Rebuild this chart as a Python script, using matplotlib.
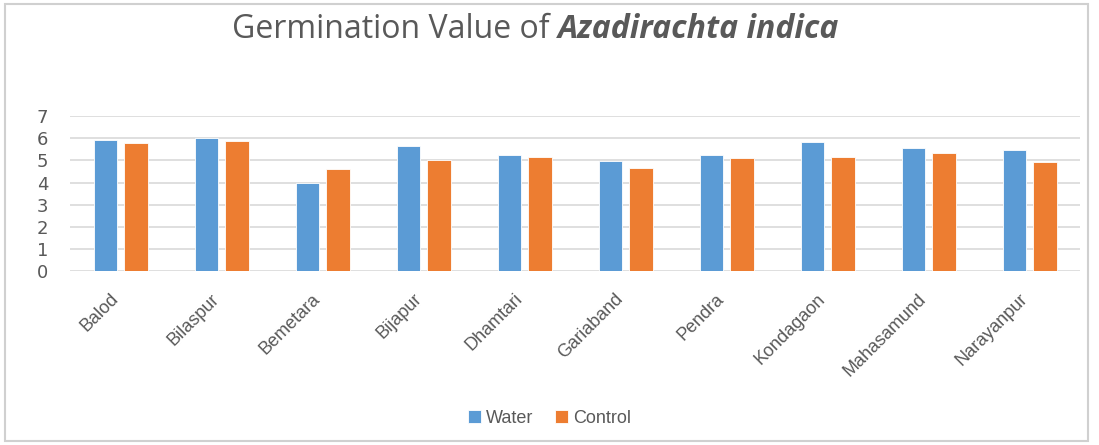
import matplotlib.pyplot as plt
import matplotlib.transforms as mtransforms
import numpy as np
from matplotlib.patches import Rectangle

districts = ['Balod', 'Bilaspur', 'Bemetara', 'Bijapur', 'Dhamtari', 'Gariaband',
             'Pendra', 'Kondagaon', 'Mahasamund', 'Narayanpur']
water = [5.93, 6.02, 4.0, 5.66, 5.26, 4.95, 5.26, 5.84, 5.57, 5.48]
control = [5.77, 5.89, 4.59, 5.03, 5.17, 4.67, 5.12, 5.17, 5.35, 4.94]

grey = '#595959'
lab_font = ['Liberation Sans', 'DejaVu Sans']

fig = plt.figure(figsize=(10.99, 4.45), dpi=100)
ax = fig.add_axes([0.064, 0.391, 0.919, 0.348])

x = np.arange(len(districts))
ax.bar(x - 0.15, water, 0.23, color='#5B9BD5', edgecolor='white', linewidth=0.6, label='Water', zorder=3)
ax.bar(x + 0.15, control, 0.23, color='#ED7D31', edgecolor='white', linewidth=0.6, label='Control', zorder=3)

ax.set_xlim(-0.5, len(districts) - 0.5)
ax.set_ylim(0, 7)
ax.set_yticks(range(8))
ax.grid(axis='y', color='#D9D9D9', linewidth=1.2, zorder=0)
for s in ax.spines.values():
    s.set_visible(False)
ax.tick_params(length=0)
ax.tick_params(axis='y', pad=16, labelsize=13, labelcolor=grey)
ax.set_xticks(x)
ax.set_xticklabels(districts, rotation=45, ha='right', rotation_mode='anchor',
                   fontsize=13, color=grey, family=lab_font)
ax.tick_params(axis='x', pad=14)
shift = mtransforms.ScaledTranslation(-11 / 100, 0, fig.dpi_scale_trans)
for lbl in ax.get_xticklabels():
    lbl.set_transform(lbl.get_transform() + shift)

# title in two parts
t1 = fig.text(0.5, 0.915, 'Germination Value of ', fontsize=23, color=grey,
              family='Open Sans', ha='left', va='baseline')
t2 = fig.text(0.5, 0.915, 'Azadirachta indica', fontsize=23, color=grey,
              family='Open Sans', fontweight='bold', style='italic', ha='left', va='baseline')
fig.canvas.draw()
r = fig.canvas.get_renderer()
w1 = t1.get_window_extent(r).width / fig.bbox.width
w2 = t2.get_window_extent(r).width / fig.bbox.width
start = 0.487 - (w1 + w2) / 2
t1.set_x(start)
t2.set_x(start + w1)

leg = fig.legend(loc='center', bbox_to_anchor=(0.5, 0.06), ncol=2, frameon=False,
                 prop={'family': lab_font, 'size': 13}, handlelength=0.7, handleheight=0.7,
                 handletextpad=0.3, columnspacing=1.2)
for txt in leg.get_texts():
    txt.set_color(grey)

fig.patches.append(Rectangle((0.005, 0.01), 0.985, 0.982, transform=fig.transFigure,
                             fill=False, edgecolor='#D0D0D0', linewidth=1.5))

fig.savefig('out.png', dpi=100)
